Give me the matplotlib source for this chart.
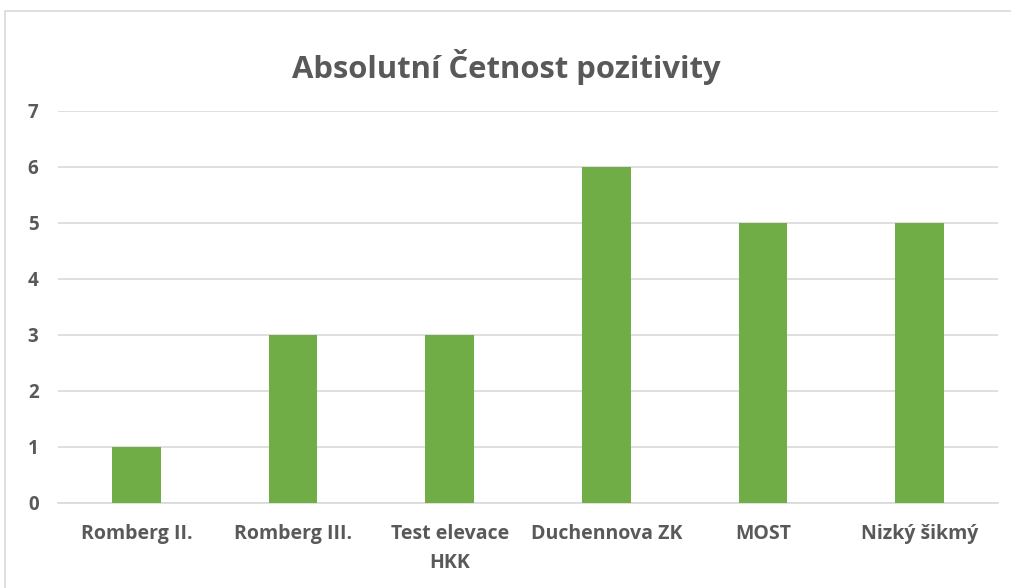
import matplotlib
matplotlib.use("Agg")
import matplotlib.pyplot as plt
from matplotlib.patches import Rectangle

categories = ["Romberg II.", "Romberg III.", "Test elevace\nHKK", "Duchennova ZK", "MOST", "Nizký šikmý"]
values = [1, 3, 3, 6, 5, 5]
yticks = [0, 1, 2, 3, 4, 5, 6, 7]

plt.rcParams['font.family'] = ['Open Sans', 'DejaVu Sans']
txt = "#595959"

fig = plt.figure(figsize=(10.12, 5.88), dpi=100)
fig.patches.append(Rectangle((5/1012, -0.1), 1.2, 1 - 11/588 + 0.1, transform=fig.transFigure,
                             fill=False, edgecolor="#D9D9D9", linewidth=1.2))
ax = fig.add_axes([58/1012, 1 - 503/588, 940/1012, 392/588])
x = list(range(len(categories)))
ax.bar(x, values, width=0.31, color="#70AD47", zorder=3)
ax.set_xlim(-0.5, len(categories) - 0.5)
ax.set_ylim(0, 7)
ax.set_yticks(yticks)
ax.set_yticklabels([str(t) for t in yticks], fontsize=13.5, fontweight="bold", color=txt)
ax.set_xticks(x)
ax.set_xticklabels(categories, fontsize=14, fontweight="bold", color=txt, linespacing=1.6)
ax.tick_params(axis="both", length=0)
ax.tick_params(axis="y", pad=14)
ax.tick_params(axis="x", pad=15)
ax.grid(axis="y", color="#D9D9D9", linewidth=1.2, zorder=0)
for s in ["top", "right", "left"]:
    ax.spines[s].set_visible(False)
ax.spines["bottom"].set_color("#D9D9D9")
ax.spines["bottom"].set_linewidth(1.2)
fig.text(0.5, 1 - 67/588, "Absolutní Četnost pozitivity", ha="center", va="center",
         fontsize=22.3, fontweight="bold", color=txt)
fig.savefig("out.png", dpi=100, facecolor="white")
